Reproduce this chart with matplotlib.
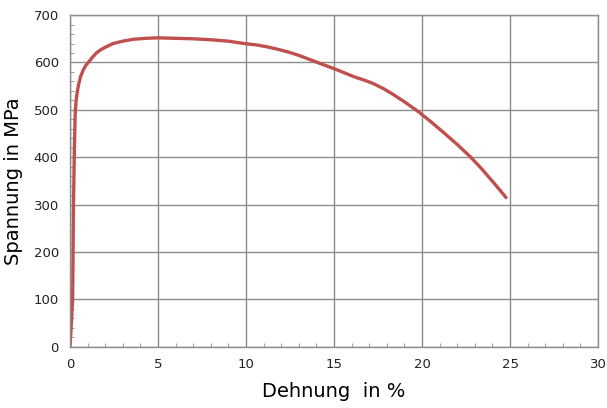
import matplotlib

matplotlib.use("Agg")
import matplotlib.pyplot as plt
from matplotlib.ticker import MultipleLocator

# strain in %, stress in MPa
dehnung = [0.0, 0.08, 0.15, 0.2, 0.25, 0.3, 0.35, 0.42, 0.5, 0.6, 0.75, 0.9,
           1.04, 1.25, 1.5, 1.75, 2.0, 2.45, 3.0, 3.6, 4.3, 5.0, 6.0, 7.0,
           8.0, 9.0, 9.9, 10.6, 11.2, 11.9, 12.5, 13.0, 13.5, 14.2, 15.0,
           15.6, 16.2, 16.7, 17.2, 17.8, 18.3, 19.0, 19.8, 20.5, 21.2,
           22.0, 22.77, 23.4, 24.1, 24.77]
spannung = [0, 50, 100, 300, 420, 495, 520, 540, 555, 570, 584, 594,
            600, 610, 620, 627, 632, 640, 645, 649, 651, 652, 651, 650,
            648, 645, 640, 637, 633, 627, 621, 615, 608, 598, 587,
            578, 569, 563, 556, 545, 534, 517, 496, 475, 453,
            427, 400, 375, 345, 315]

fig = plt.figure(figsize=(6.07, 4.08), dpi=100)
ax = fig.add_axes([0.1153, 0.150, 0.870, 0.813])

ax.plot(dehnung, spannung, color="#C0504D", linewidth=2.4,
        solid_capstyle="round", solid_joinstyle="round")

ax.set_xlim(0, 30)
ax.set_ylim(0, 700)
ax.xaxis.set_major_locator(MultipleLocator(5))
ax.xaxis.set_minor_locator(MultipleLocator(1))
ax.yaxis.set_major_locator(MultipleLocator(100))
ax.yaxis.set_minor_locator(MultipleLocator(20))

ax.grid(True, which="major", color="#8c8c8c", linewidth=1.0)
ax.set_axisbelow(True)
for side in ax.spines.values():
    side.set_color("#8c8c8c")
    side.set_linewidth(1.0)

ax.tick_params(which="major", length=0, pad=8, labelsize=9.5, colors="#222222")
ax.tick_params(which="minor", direction="in", length=3, color="#8c8c8c")

ax.set_xlabel("Dehnung  in %", fontsize=14, labelpad=8)
ax.set_ylabel("Spannung in MPa", fontsize=14, labelpad=8)

fig.savefig("out.png", dpi=100)
plt.close(fig)
